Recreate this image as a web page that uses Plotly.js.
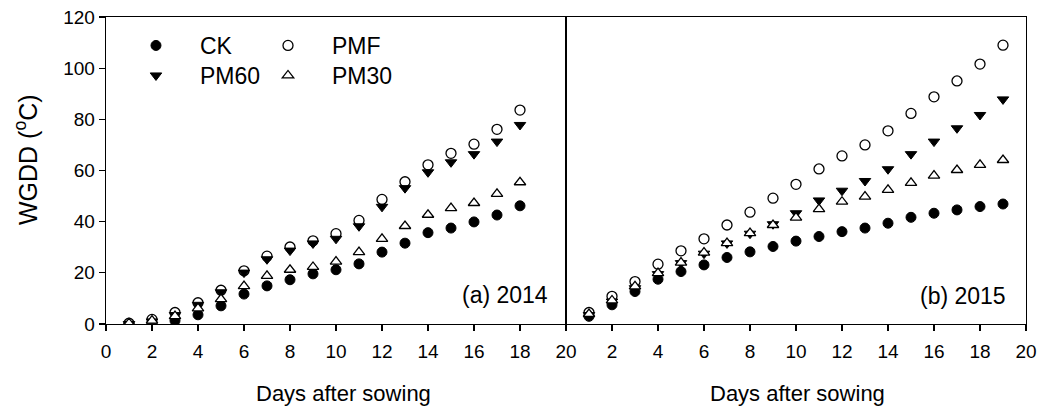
<!DOCTYPE html>
<html>
<head>
<meta charset="utf-8">
<script src="https://cdn.plot.ly/plotly-3.0.1.min.js"></script>
<style>
  html, body { margin: 0; padding: 0; background: #fff; }
  #chart { width: 1040px; height: 409px; }
</style>
</head>
<body>
<div id="chart"></div>
<script>
// ---- data ----
var days2014 = [1,2,3,4,5,6,7,8,9,10,11,12,13,14,15,16,17,18];
var ck2014   = [0, 0.3, 1.3, 3.6, 7.1, 11.7, 14.9, 17.3, 19.6, 21.2, 23.5, 28.1, 31.6, 35.7, 37.5, 39.9, 42.6, 46.2];
var pmf2014  = [0.3, 1.8, 4.5, 8.3, 13.2, 20.8, 26.5, 30.1, 32.5, 35.3, 40.5, 48.7, 55.6, 62.2, 66.7, 70.3, 76.1, 83.6];
var pm60_2014 = [0, 1.0, 3.5, 7.5, 12.4, 20.1, 25.3, 28.7, 31.5, 33.3, 38.2, 45.8, 53.1, 59.3, 63.2, 66.4, 71.3, 77.8];
var pm30_2014 = [0.3, 1.3, 3.1, 6.1, 9.7, 14.8, 18.8, 21.2, 22.3, 24.4, 28.1, 33.3, 38.3, 42.7, 45.3, 47.3, 50.9, 55.4];

var days2015 = [1,2,3,4,5,6,7,8,9,10,11,12,13,14,15,16,17,18,19];
var ck2015   = [3.0, 7.5, 12.7, 17.5, 20.5, 23.1, 26.0, 28.2, 30.3, 32.4, 34.2, 36.1, 37.5, 39.4, 41.7, 43.3, 44.6, 45.9, 46.9];
var pmf2015  = [4.5, 10.8, 16.6, 23.4, 28.6, 33.3, 38.7, 43.7, 49.2, 54.6, 60.6, 65.7, 70.0, 75.5, 82.3, 88.8, 95.0, 101.6, 109.0];
var pm60_2015 = [3.5, 8.8, 14.0, 19.5, 23.8, 27.5, 31.5, 35.3, 39.0, 43.3, 48.3, 52.1, 55.9, 60.5, 66.4, 71.3, 76.5, 81.7, 87.8];
var pm30_2015 = [3.9, 9.2, 14.7, 19.9, 24.0, 27.9, 31.6, 35.5, 38.7, 41.6, 44.9, 47.8, 49.8, 52.4, 55.2, 58.0, 60.2, 62.2, 64.1];

var seriesNames = ['CK', 'PMF', 'PM60', 'PM30'];
var xTicksLeft = [0,2,4,6,8,10,12,14,16,18,20];
var xTicksRight = [2,4,6,8,10,12,14,16,18,20];
var yTicks = [0,20,40,60,80,100,120];
var xTitle = 'Days after sowing';
var yTitle = 'WGDD (<sup>o</sup>C)';
var panelA = '(a) 2014';
var panelB = '(b) 2015';

// ---- styles ----
var FONT = 'Liberation Sans, Arial, Helvetica, sans-serif';
var NBSP = '\u00a0';
var styles = {
  CK:   {symbol: 'circle', color: '#000', line: {color: '#000', width: 1}, legend: 'legend'},
  PMF:  {symbol: 'circle', color: '#fff', line: {color: '#000', width: 1.3}, legend: 'legend2'},
  PM60: {symbol: 'triangle-down', color: '#000', line: {color: '#000', width: 1}, legend: 'legend3'},
  PM30: {symbol: 'triangle-up', color: '#fff', line: {color: '#000', width: 1.3}, legend: 'legend4'}
};

function mk(name, x, y, xa, ya, show) {
  var s = styles[name];
  return {
    type: 'scatter', mode: 'markers', name: name, x: x, y: y,
    xaxis: xa, yaxis: ya, showlegend: show, legend: s.legend,
    marker: {symbol: s.symbol, size: 10, color: s.color, line: s.line},
    hoverinfo: 'x+y+name'
  };
}

var d2014 = {CK: ck2014, PMF: pmf2014, PM60: pm60_2014, PM30: pm30_2014};
var d2015 = {CK: ck2015, PMF: pmf2015, PM60: pm60_2015, PM30: pm30_2015};

var traces = [];
seriesNames.forEach(function (n) { traces.push(mk(n, days2014, d2014[n], 'x', 'y', true)); });
seriesNames.forEach(function (n) { traces.push(mk(n, days2015, d2015[n], 'x2', 'y2', false)); });

var axLine = {showline: true, linecolor: '#000', linewidth: 1.3, mirror: true, zeroline: false, showgrid: false};
var tickFont = {family: FONT, size: 19, color: '#000'};
var tickStyle = {ticks: 'outside', ticklen: 6, tickwidth: 1.3, tickcolor: '#000', tickfont: tickFont};

function leg(x, y) {
  return {
    x: x, y: y, xanchor: 'left', yanchor: 'top',
    bgcolor: 'rgba(0,0,0,0)', borderwidth: 0, itemwidth: 78,
    font: {family: FONT, size: 23, color: '#000'}, tracegroupgap: 0
  };
}

var layout = {
  width: 1040, height: 409,
  margin: {l: 106, r: 14, t: 17, b: 85, pad: 0},
  paper_bgcolor: '#fff', plot_bgcolor: '#fff',
  font: {family: FONT, color: '#000'},
  xaxis: Object.assign({}, axLine, tickStyle, {
    domain: [0, 0.5], range: [0, 20], tickmode: 'array', tickvals: xTicksLeft,
    ticklabelstandoff: 4
  }),
  yaxis: Object.assign({}, axLine, tickStyle, {
    range: [0, 120], tickmode: 'array', tickvals: yTicks,
    ticksuffix: NBSP + NBSP
  }),
  xaxis2: Object.assign({}, axLine, tickStyle, {
    domain: [0.5, 1], range: [0, 20], anchor: 'y2', tickmode: 'array', tickvals: xTicksRight,
    ticklabelstandoff: 4
  }),
  yaxis2: Object.assign({}, axLine, {
    range: [0, 120], anchor: 'x2', matches: 'y', ticks: '', showticklabels: false
  }),
  legend: leg(0.0065, 0.9772),
  legend2: leg(0.150, 0.9772),
  legend3: leg(0.0065, 0.8795),
  legend4: leg(0.150, 0.8795),
  annotations: [
    {text: yTitle, xref: 'paper', yref: 'paper', x: (26 - 106) / 920, y: (324 - 160) / 307,
     xanchor: 'center', yanchor: 'middle', textangle: -90, showarrow: false,
     font: {family: FONT, size: 25, color: '#000'}},
    {text: xTitle, xref: 'paper', yref: 'paper', x: (343 - 106) / 920, y: (324 - 393) / 307,
     xanchor: 'center', yanchor: 'middle', showarrow: false,
     font: {family: FONT, size: 22, color: '#000'}},
    {text: xTitle, xref: 'paper', yref: 'paper', x: (797 - 106) / 920, y: (324 - 393) / 307,
     xanchor: 'center', yanchor: 'middle', showarrow: false,
     font: {family: FONT, size: 22, color: '#000'}},
    {text: panelA, xref: 'paper', yref: 'paper', x: (550 - 106) / 920, y: (324 - 295) / 307,
     xanchor: 'right', yanchor: 'middle', showarrow: false,
     font: {family: FONT, size: 23, color: '#000'}},
    {text: panelB, xref: 'paper', yref: 'paper', x: (1008 - 106) / 920, y: (324 - 296) / 307,
     xanchor: 'right', yanchor: 'middle', showarrow: false,
     font: {family: FONT, size: 23, color: '#000'}}
  ]
};

Plotly.newPlot('chart', traces, layout, {displayModeBar: false, staticPlot: true});
</script>
</body>
</html>
